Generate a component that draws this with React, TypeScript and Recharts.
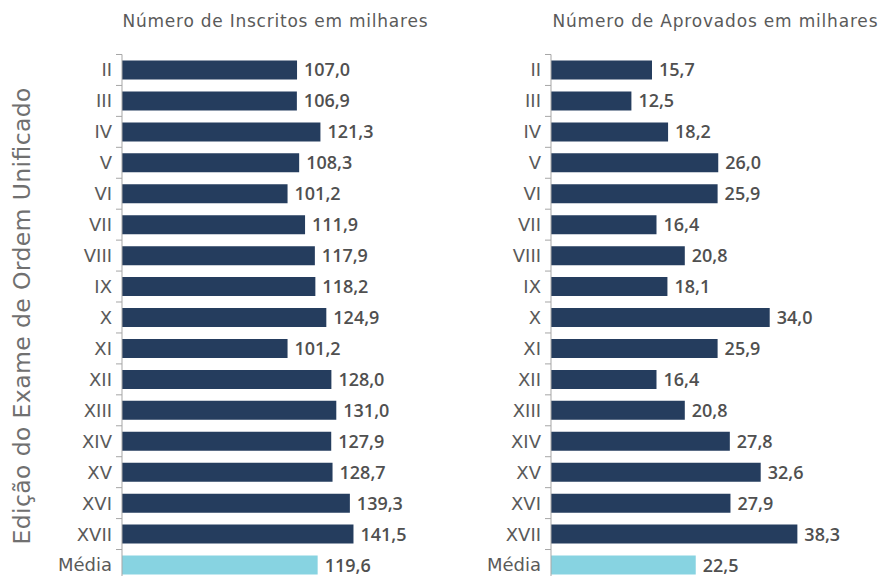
import React from 'react';
import { BarChart, Bar, XAxis, YAxis, Cell, LabelList } from 'recharts';

const editions = ['II', 'III', 'IV', 'V', 'VI', 'VII', 'VIII', 'IX', 'X', 'XI', 'XII', 'XIII', 'XIV', 'XV', 'XVI', 'XVII', 'Média'];
const inscritos = [107.0, 106.9, 121.3, 108.3, 101.2, 111.9, 117.9, 118.2, 124.9, 101.2, 128.0, 131.0, 127.9, 128.7, 139.3, 141.5, 119.6];
const aprovados = [15.7, 12.5, 18.2, 26.0, 25.9, 16.4, 20.8, 18.1, 34.0, 25.9, 16.4, 20.8, 27.8, 32.6, 27.9, 38.3, 22.5];
const titleInscritos = 'Número de Inscritos em milhares';
const titleAprovados = 'Número de Aprovados em milhares';
const yAxisTitle = 'Edição do Exame de Ordem Unificado';

const NAVY = '#253D5E';
const LIGHT = '#87D3E1';
const AXIS = '#A6A6A6';
const FONT = '"Open Sans", sans-serif';
const WIDE = '"DejaVu Sans", sans-serif';

const PLOT_TOP = 54.5;
const BAND = 30.94;
const CHART_H = PLOT_TOP + editions.length * BAND;

const fmt = (v: number) => v.toFixed(1).replace('.', ',');

function makeTick(axisX: number) {
  return (props: any) => {
    const { y, payload } = props;
    return (
      <g>
        <text x={axisX - 10} y={y + 6.5} textAnchor="end" fill="#5a5a5a" fontSize={18} fontFamily={WIDE}>
          {payload.value}
        </text>
        <line x1={axisX - 6} x2={axisX} y1={y - BAND / 2} y2={y - BAND / 2} stroke={AXIS} strokeWidth={1} />
      </g>
    );
  };
}

const ValueLabel = (props: any) => {
  const { x, y, width, height, value } = props;
  return (
    <text x={x + width + 7} y={y + height / 2 + 6.5} fill="#505050" fontSize={18} fontWeight={600} fontFamily={FONT}>
      {fmt(Number(value))}
    </text>
  );
};

function Panel({ values, left, axisW, domainMax }: { values: number[]; left: number; axisW: number; domainMax: number }) {
  const data = editions.map((name, i) => ({ name, value: values[i] }));
  return (
    <div style={{ position: 'absolute', left, top: 0 }}>
      <BarChart
        layout="vertical"
        width={441}
        height={CHART_H}
        data={data}
        margin={{ top: PLOT_TOP, right: 0, bottom: 0, left: 0 }}
        barSize={19}
      >
        <XAxis type="number" hide domain={[0, domainMax]} allowDataOverflow />
        <YAxis
          type="category"
          dataKey="name"
          width={axisW}
          axisLine={{ stroke: AXIS }}
          tickLine={false}
          interval={0}
          tick={makeTick(axisW)}
        />
        <Bar dataKey="value" isAnimationActive={false}>
          {data.map((d, i) => (
            <Cell key={i} fill={d.name === 'Média' ? LIGHT : NAVY} />
          ))}
          <LabelList dataKey="value" content={ValueLabel} />
        </Bar>
      </BarChart>
    </div>
  );
}

export default function App() {
  return (
    <div style={{ position: 'absolute', left: 0, top: 0, width: 881, height: 576, overflow: 'hidden', background: '#fff' }}>
      <Panel values={inscritos} left={0} axisW={122} domainMax={195} />
      <Panel values={aprovados} left={440} axisW={111} domainMax={51.3} />
      <svg width={881} height={576} style={{ position: 'absolute', left: 0, top: 0, pointerEvents: 'none' }}>
        <text x={275} y={27} textAnchor="middle" fill="#5a5a5a" fontSize={17} fontFamily={WIDE} textLength={305} lengthAdjust="spacing">
          {titleInscritos}
        </text>
        <text x={715} y={27} textAnchor="middle" fill="#5a5a5a" fontSize={17} fontFamily={WIDE} textLength={325} lengthAdjust="spacing">
          {titleAprovados}
        </text>
        <text x={30} y={316} textAnchor="middle" fill="#707070" fontSize={23.5} fontFamily={WIDE} textLength={457} lengthAdjust="spacing" transform="rotate(-90 30 316)">
          {yAxisTitle}
        </text>
      </svg>
    </div>
  );
}
